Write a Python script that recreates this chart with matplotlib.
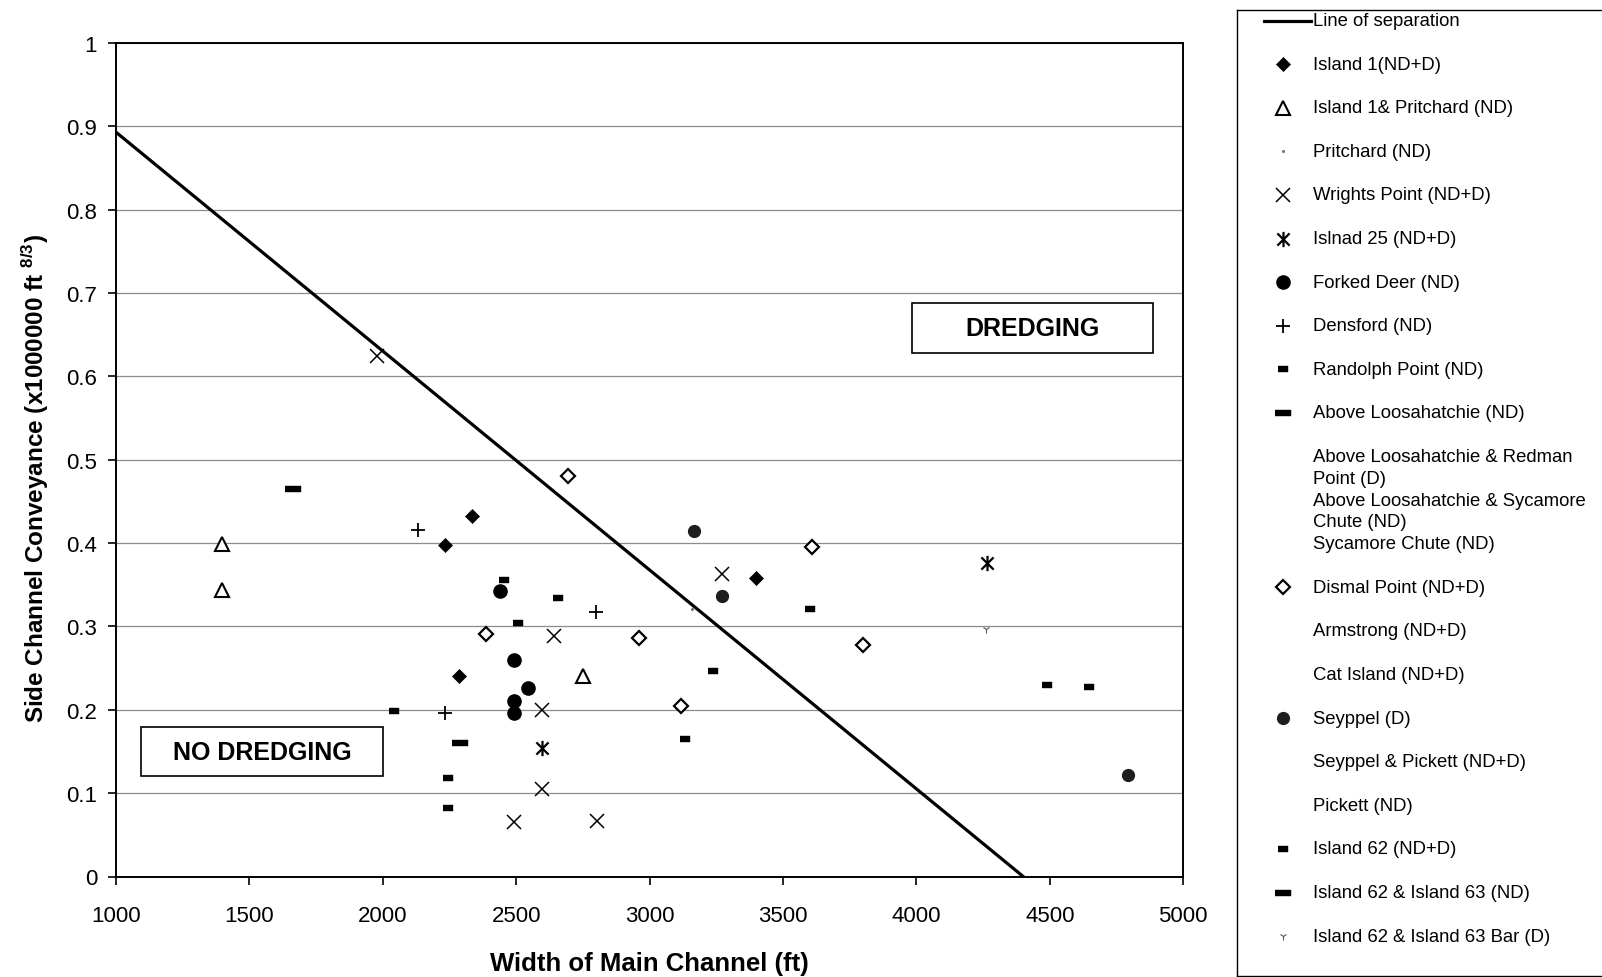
import numpy as np
import matplotlib
matplotlib.use("Agg")
import matplotlib.pyplot as plt
from matplotlib.path import Path
from matplotlib.patches import Rectangle

plt.rcParams['font.family'] = ['Liberation Sans', 'DejaVu Sans']
plt.rcParams['mathtext.fontset'] = 'custom'
plt.rcParams['mathtext.rm'] = 'Liberation Sans'
plt.rcParams['mathtext.bf'] = 'Liberation Sans:bold'

# --- data (width of main channel in ft, side conveyance) ---
sep_x = [1000, 4400]
sep_y = [0.893, 0.0]

island1_x = [2336, 2234, 2285, 3399]
island1_y = [0.433, 0.398, 0.241, 0.358]

island1_pritchard_x = [1397, 1397, 2749]
island1_pritchard_y = [0.399, 0.344, 0.240]

pritchard_x = [3159]
pritchard_y = [0.321]

wrights_x = [1977, 3272, 2640, 2598, 2598, 2492, 2801]
wrights_y = [0.624, 0.363, 0.288, 0.200, 0.105, 0.065, 0.067]

island25_x = [4263, 2598]
island25_y = [0.376, 0.154]

forked_deer_x = [2440, 2492, 2545, 2492, 2492]
forked_deer_y = [0.342, 0.260, 0.226, 0.211, 0.196]

densford_x = [2133, 2799, 2234]
densford_y = [0.416, 0.317, 0.196]

randolph_x = [2455, 2656, 2507, 2042, 2245, 2245]
randolph_y = [0.356, 0.334, 0.304, 0.199, 0.118, 0.082]

above_loosa_x = [1664]
above_loosa_y = [0.465]

dismal_x = [2694, 2388, 2959, 3610, 3799, 3116]
dismal_y = [0.480, 0.291, 0.286, 0.395, 0.278, 0.205]

seyppel_x = [3167, 3272, 4791]
seyppel_y = [0.414, 0.337, 0.122]

island62_x = [3236, 3131, 3602, 4488, 4648]
island62_y = [0.246, 0.165, 0.321, 0.230, 0.227]

island62_63_x = [2291]
island62_63_y = [0.160]

island62_63_bar_x = [4262]
island62_63_bar_y = [0.297]

legend_labels = [
    "Line of separation",
    "Island 1(ND+D)",
    "Island 1& Pritchard (ND)",
    "Pritchard (ND)",
    "Wrights Point (ND+D)",
    "Islnad 25 (ND+D)",
    "Forked Deer (ND)",
    "Densford (ND)",
    "Randolph Point (ND)",
    "Above Loosahatchie (ND)",
    "Above Loosahatchie & Redman\nPoint (D)",
    "Above Loosahatchie & Sycamore\nChute (ND)",
    "Sycamore Chute (ND)",
    "Dismal Point (ND+D)",
    "Armstrong (ND+D)",
    "Cat Island (ND+D)",
    "Seyppel (D)",
    "Seyppel & Pickett (ND+D)",
    "Pickett (ND)",
    "Island 62 (ND+D)",
    "Island 62 & Island 63 (ND)",
    "Island 62 & Island 63 Bar (D)",
]

# --- marker shapes ---
small_rect = [(-1, -0.55), (1, -0.55), (1, 0.55), (-1, 0.55)]
wide_rect = [(-1, -0.33), (1, -0.33), (1, 0.33), (-1, 0.33)]
star = Path([(-1, -1), (1, 1), (-1, 1), (1, -1), (0, -1.25), (0, 1.25)],
            [Path.MOVETO, Path.LINETO, Path.MOVETO, Path.LINETO, Path.MOVETO, Path.LINETO])

styles = {
    "Island 1(ND+D)": dict(marker='D', ms=7, mfc='black', mec='black', mew=0.5),
    "Island 1& Pritchard (ND)": dict(marker='^', ms=9.5, mfc='white', mec='black', mew=1.5),
    "Pritchard (ND)": dict(marker='.', ms=2.5, mfc='#777777', mec='#777777'),
    "Wrights Point (ND+D)": dict(marker='x', ms=9.5, mec='black', mew=1.1),
    "Islnad 25 (ND+D)": dict(marker=star, ms=11, mfc='none', mec='black', mew=1.6),
    "Forked Deer (ND)": dict(marker='o', ms=9.5, mfc='black', mec='black'),
    "Densford (ND)": dict(marker='+', ms=10, mec='black', mew=1.3),
    "Randolph Point (ND)": dict(marker=small_rect, ms=7, mfc='black', mec='black', mew=0.3),
    "Above Loosahatchie (ND)": dict(marker=wide_rect, ms=11, mfc='black', mec='black', mew=0.3),
    "Dismal Point (ND+D)": dict(marker='D', ms=6.8, mfc='white', mec='black', mew=1.6),
    "Seyppel (D)": dict(marker='o', ms=8.5, mfc='#1e1e1e', mec='#1e1e1e'),
    "Island 62 (ND+D)": dict(marker=small_rect, ms=7, mfc='black', mec='black', mew=0.3),
    "Island 62 & Island 63 (ND)": dict(marker=wide_rect, ms=11, mfc='black', mec='black', mew=0.3),
    "Island 62 & Island 63 Bar (D)": dict(marker='1', ms=6, mec='#555555', mew=0.8),
}

series = [
    ("Island 1(ND+D)", island1_x, island1_y),
    ("Island 1& Pritchard (ND)", island1_pritchard_x, island1_pritchard_y),
    ("Pritchard (ND)", pritchard_x, pritchard_y),
    ("Wrights Point (ND+D)", wrights_x, wrights_y),
    ("Islnad 25 (ND+D)", island25_x, island25_y),
    ("Forked Deer (ND)", forked_deer_x, forked_deer_y),
    ("Densford (ND)", densford_x, densford_y),
    ("Randolph Point (ND)", randolph_x, randolph_y),
    ("Above Loosahatchie (ND)", above_loosa_x, above_loosa_y),
    ("Dismal Point (ND+D)", dismal_x, dismal_y),
    ("Seyppel (D)", seyppel_x, seyppel_y),
    ("Island 62 (ND+D)", island62_x, island62_y),
    ("Island 62 & Island 63 (ND)", island62_63_x, island62_63_y),
    ("Island 62 & Island 63 Bar (D)", island62_63_bar_x, island62_63_bar_y),
]

W, H = 1602, 978
fig = plt.figure(figsize=(W / 100, H / 100), dpi=100)
ax = fig.add_axes([116 / W, 1 - 877.5 / H, (1183.3 - 116) / W, (877.5 - 44) / H])

ax.set_xlim(1000, 5000)
ax.set_ylim(0, 1)
ax.set_xticks(np.arange(1000, 5001, 500))
ax.set_yticks(np.arange(0, 1.01, 0.1))
ax.set_yticklabels(["0", "0.1", "0.2", "0.3", "0.4", "0.5", "0.6", "0.7", "0.8", "0.9", "1"])
ax.yaxis.grid(True, color='#8c8c8c', lw=0.9)
ax.set_axisbelow(True)
for sp in ax.spines.values():
    sp.set_linewidth(1.4)
ax.tick_params(axis='both', labelsize=16, length=5.5, width=1.2, direction='out')
ax.tick_params(axis='x', pad=15)
ax.tick_params(axis='y', pad=8)

ax.plot(sep_x, sep_y, color='black', lw=2.3, zorder=3)
for name, xs, ys in series:
    ax.plot(xs, ys, linestyle='none', zorder=4, **styles[name])

ax.set_xlabel("Width of Main Channel (ft)", fontsize=18.5, fontweight='bold', labelpad=18)
ax.set_ylabel(r"Side Channel Conveyance (x1000000 ft $^{\mathbf{8/3}}$)",
              fontsize=17.5, fontweight='bold', labelpad=11)
ax.yaxis.label.set_y(0.479)

# annotation boxes
for (x0, x1, y0, y1, txt) in [(3983, 4886, 0.628, 0.688, "DREDGING"),
                               (1094, 2002, 0.120, 0.179, "NO DREDGING")]:
    ax.add_patch(Rectangle((x0, y0), x1 - x0, y1 - y0, fill=True, fc='white',
                           ec='black', lw=1.2, zorder=5))
    ax.text((x0 + x1) / 2, (y0 + y1) / 2, txt, ha='center', va='center',
            fontsize=18, fontweight='bold', zorder=6)

# legend drawn in its own panel (pixel units, y downward)
lx0, ly0, ly1 = 1237, 11, 977
lax = fig.add_axes([lx0 / W, 1 - ly1 / H, (1612 - lx0) / W, (ly1 - ly0) / H])
lax.set_xlim(0, 1612 - lx0)
lax.set_ylim(ly1 - ly0, 0)
lax.set_xticks([])
lax.set_yticks([])
for sp in lax.spines.values():
    sp.set_linewidth(1.0)

slot0, step, line_gap = 10.5, 43.6, 21.8
mark_x, text_x = 46, 76
for i, label in enumerate(legend_labels):
    y = slot0 + step * i
    if i == 0:
        lax.plot([27, 74], [y, y], color='black', lw=2.3)
    elif label in styles:
        lax.plot([mark_x], [y], linestyle='none', **styles[label])
    for k, part in enumerate(label.split("\n")):
        lax.text(text_x, y + k * line_gap, part, fontsize=13.3, va='center', ha='left')

fig.savefig("out.png", dpi=100)
